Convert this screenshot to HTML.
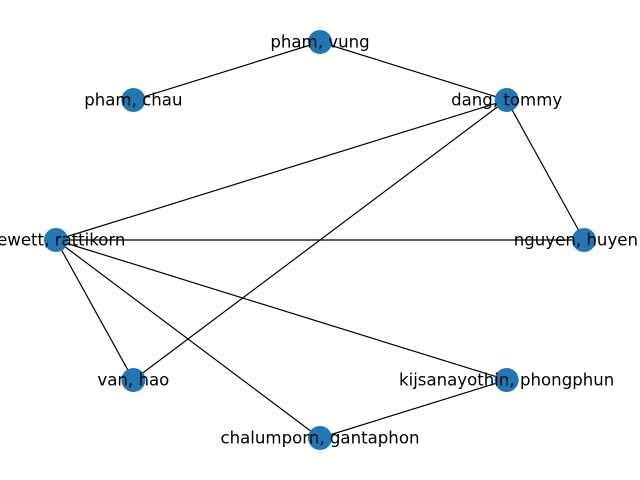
<!DOCTYPE html>
<html><head><meta charset="utf-8"><style>
html,body{margin:0;padding:0;background:#fff;}
svg{display:block;}
text{font-family:"DejaVu Sans","Liberation Sans",sans-serif;font-size:16.6px;fill:#000;}
</style></head><body>
<svg id="chart" width="640" height="480" viewBox="0 0 640 480">
<g id="edges"></g>
<g id="nodes"></g>
<g id="labels"></g>
</svg>
<script>
const nodeNames = ["pham, vung","pham, chau","dang, tommy","hewett, rattikorn","nguyen, huyen","van, hao","kijsanayothin, phongphun","chalumporn, gantaphon"];
const nodeX = [0.0,-0.707,0.707,-1.0,1.0,-0.707,0.707,0.0];
const nodeY = [1.0,0.707,0.707,0.0,0.0,-0.707,-0.707,-1.0];
const edgeFrom = [0,0,2,2,2,3,3,3,3,6];
const edgeTo   = [1,2,3,5,4,4,5,7,6,7];
const xs = v => 320 + v*264;
const ys = v => 240 - v*198;
const NS="http://www.w3.org/2000/svg";
const eg=document.getElementById('edges'), ng=document.getElementById('nodes'), lg=document.getElementById('labels');
for(let i=0;i<edgeFrom.length;i++){
  const a=edgeFrom[i], b=edgeTo[i];
  const l=document.createElementNS(NS,'line');
  l.setAttribute('x1',xs(nodeX[a]));l.setAttribute('y1',ys(nodeY[a]));
  l.setAttribute('x2',xs(nodeX[b]));l.setAttribute('y2',ys(nodeY[b]));
  l.setAttribute('stroke','#000');l.setAttribute('stroke-width','1.2');
  
  
  eg.appendChild(l);
}
for(let i=0;i<nodeNames.length;i++){
  const c=document.createElementNS(NS,'circle');
  c.setAttribute('cx',xs(nodeX[i]));c.setAttribute('cy',ys(nodeY[i]));
  c.setAttribute('r','12');c.setAttribute('fill','#1f77b4');
  
  
  ng.appendChild(c);
  const t=document.createElementNS(NS,'text');
  t.setAttribute('x',xs(nodeX[i]));t.setAttribute('y',ys(nodeY[i]));
  t.setAttribute('text-anchor','middle');t.setAttribute('dominant-baseline','central');
  t.textContent=nodeNames[i];
  
  
  lg.appendChild(t);
  const w=t.getComputedTextLength();
  const right=xs(nodeX[i])+w/2;
  if(right>638){t.setAttribute('x',xs(nodeX[i])-(right-638));}
}
</script>
</body></html>
